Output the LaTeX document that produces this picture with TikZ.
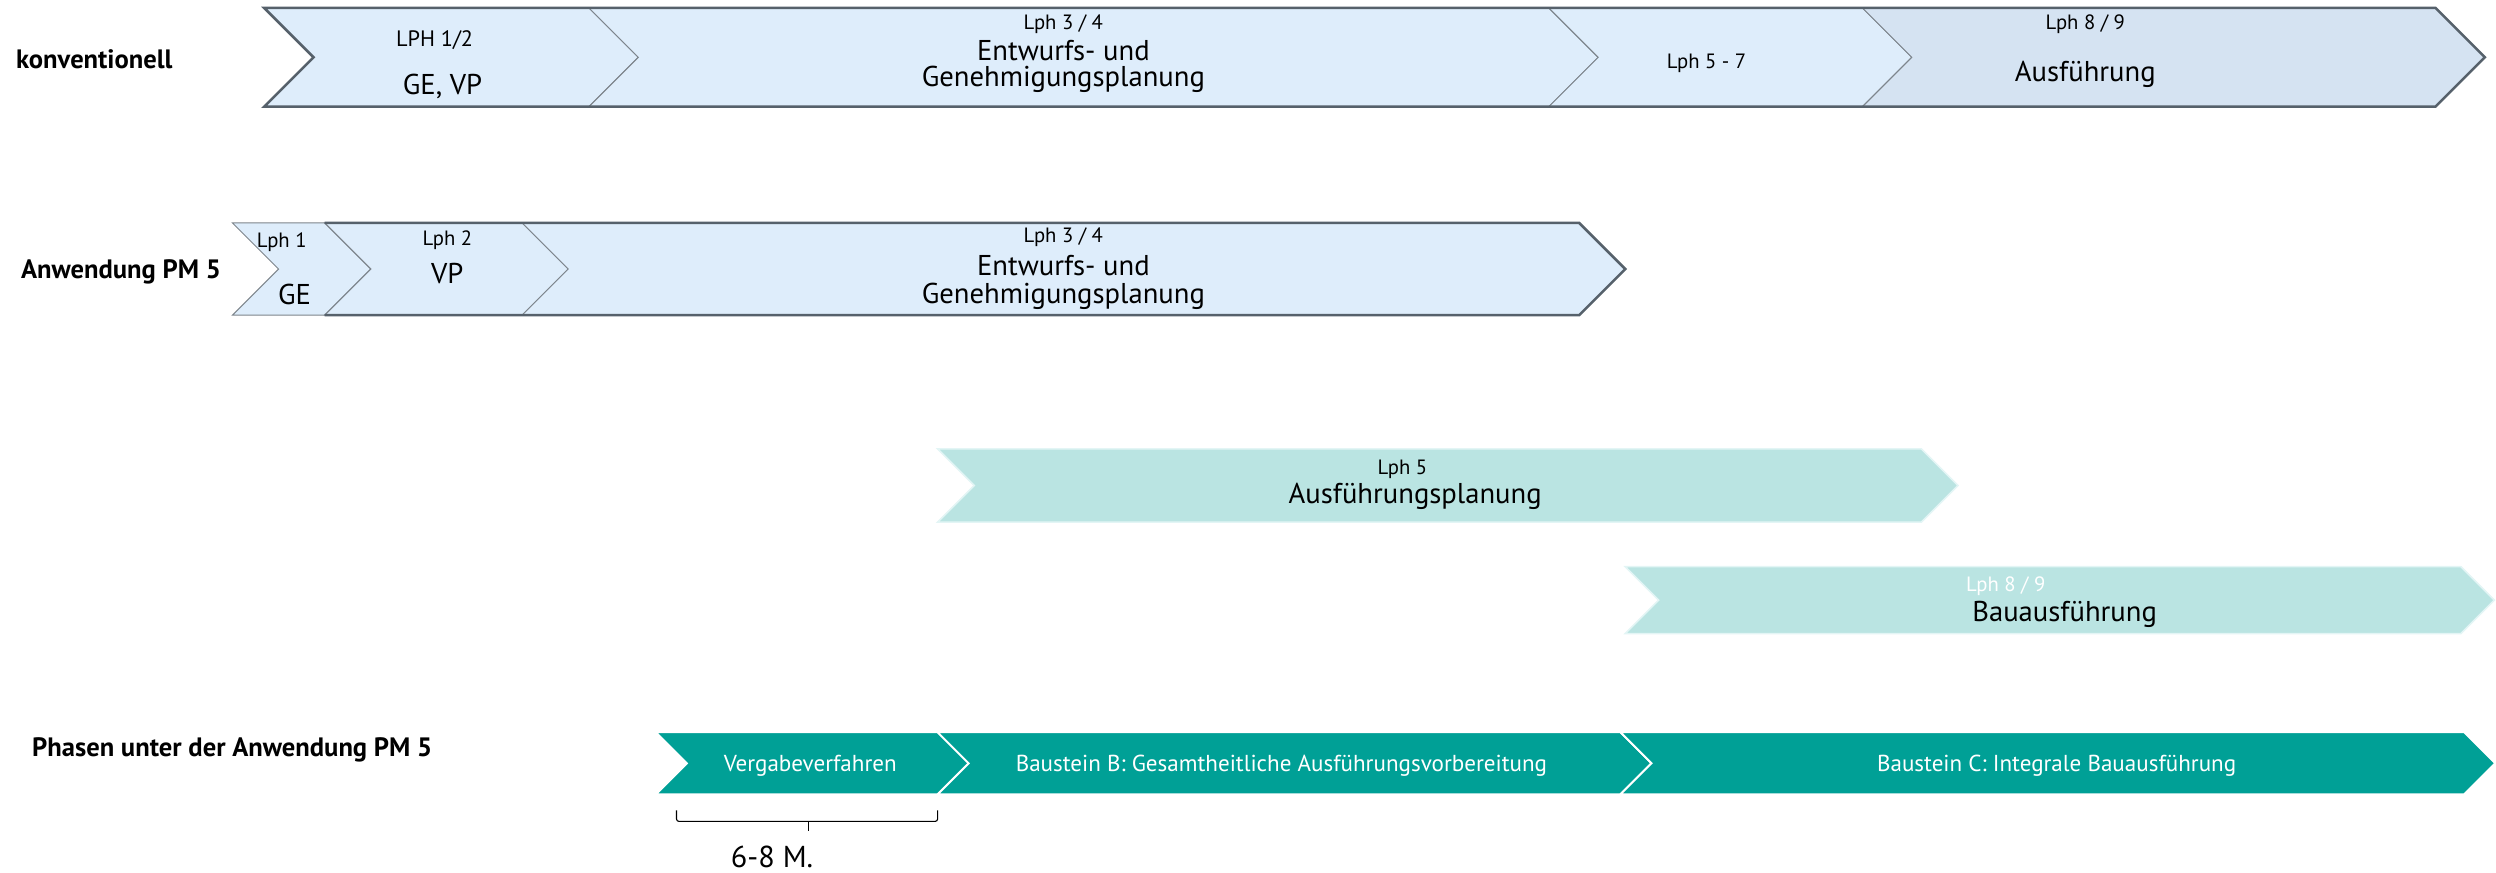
\documentclass[tikz,border=0pt]{standalone}
\usepackage{fontspec}
\setmainfont{PT Sans}
\definecolor{paleblue}{HTML}{DEEDFB}
\definecolor{midblue}{HTML}{D5E3F2}
\definecolor{framegray}{HTML}{56616B}
\definecolor{sepgray}{HTML}{7D858C}
\definecolor{paleteal}{HTML}{BAE4E2}
\definecolor{tealedge}{HTML}{E3F5F5}
\definecolor{pmteal}{HTML}{00A096}
% chevron: #1 left x, #2 right x, #3 top y, #4 bottom y, #5 options
\newcommand{\chevshape}[5]{%
  \draw[#5] (#1,#3) -- (#2,#3) -- ({#2+(#4-#3)/2},{(#3+#4)/2}) -- (#2,#4)
    -- (#1,#4) -- ({#1+(#4-#3)/2},{(#3+#4)/2}) -- cycle;}
\tikzset{
  small/.style={font=\fontsize{13}{14}\selectfont, inner sep=0pt},
  big/.style={font=\fontsize{18}{19}\selectfont, inner sep=0pt},
  bar/.style={font=\fontsize{14.5}{16}\selectfont, inner sep=0pt, text=white},
  rowlabel/.style={font=\bfseries\fontsize{16.7}{18}\selectfont, anchor=west, inner sep=0pt},
  thinsep/.style={fill=paleblue, draw=sepgray, line width=0.6pt},
  frame/.style={draw=framegray, line width=1.6pt, line join=miter},
}
\begin{document}
\begin{tikzpicture}[x=1pt,y=-1pt]
\useasboundingbox (0,0) rectangle (1568,548);

% --- row: konventionell
\chevshape{166}{370}{5}{67}{thinsep}
\chevshape{370}{973}{5}{67}{thinsep}
\chevshape{973}{1170}{5}{67}{thinsep}
\chevshape{1170}{1530}{5}{67}{thinsep, fill=midblue}
\draw[frame] (166,5) -- (1530,5) -- (1561,36) -- (1530,67) -- (166,67) -- (197,36) -- cycle;

\node[rowlabel] (lab1) at (10,37) {konventionell};
\node[small, font=\fontsize{14}{15}\selectfont] (k1a) at (273,25) {LPH 1/2};
\node[big]   (k1b) at (278,54) {GE, VP};
\node[small] (k2a) at (668,15) {Lph 3 / 4};
\node[big]   (k2b) at (668,32) {Entwurfs- und};
\node[big]   (k2c) at (668,50) {Genehmigungsplanung};
\node[small] (k3a) at (1072,40) {Lph 5 - 7};
\node[small] (k4a) at (1310,15) {Lph 8 / 9};
\node[big]   (k4b) at (1310,47) {Ausführung};

% --- row: Anwendung PM 5
\chevshape{146}{204}{140}{198}{thinsep}
\chevshape{204}{328}{140}{198}{thinsep}
\chevshape{328}{992}{140}{198}{thinsep}
\draw[frame] (204,140) -- (992,140) -- (1021,169) -- (992,198) -- (204,198);

\node[rowlabel] (lab2) at (13,171) {Anwendung PM 5};
\node[small] (a1a) at (177,152) {Lph 1};
\node[big]   (a1b) at (185,185) {GE};
\node[small] (a2a) at (281,151) {Lph 2};
\node[big]   (a2b) at (281,172) {VP};
\node[small] (a3a) at (668,149) {Lph 3 / 4};
\node[big]   (a3b) at (668,167) {Entwurfs- und};
\node[big]   (a3c) at (668,186) {Genehmigungsplanung};

% --- parallel phases
\chevshape{589}{1207}{282}{328}{fill=paleteal, draw=tealedge, line width=1pt}
\node[small] (p1a) at (881,295) {Lph 5};
\node[big]   (p1b) at (889,312) {Ausführungsplanung};

\chevshape{1021}{1546}{356}{398}{fill=paleteal, draw=tealedge, line width=1pt}
\node[small, text=white] (p2a) at (1260,368) {Lph 8 / 9};
\node[big]   (p2b) at (1297,386) {Bauausführung};

% --- Phasen unter der Anwendung PM 5
\chevshape{412}{589}{460}{499}{fill=pmteal, draw=white, line width=1.2pt}
\chevshape{589}{1018}{460}{499}{fill=pmteal, draw=white, line width=1.2pt}
\chevshape{1018}{1548}{460}{499}{fill=pmteal, draw=white, line width=1.2pt}

\node[rowlabel] (lab3) at (20,471) {Phasen unter der Anwendung PM 5};
\node[bar] (b1) at (509,481) {Vergabeverfahren};
\node[bar] (b2) at (805,481) {Baustein B: Gesamtheitliche Ausführungsvorbereitung};
\node[bar] (b3) at (1292,481) {Baustein C: Integrale Bauausführung};

% duration bracket
\coordinate (brL) at (425,509);
\coordinate (brR) at (589,509);
\coordinate (brM) at (508,516);
\draw[line width=0.7pt, rounded corners=1.5pt] (brL) -- (425,516) -- (589,516) -- (brR);
\draw[line width=0.7pt] (brM) -- (508,522);
\node[font=\fontsize{19}{21}\selectfont, inner sep=0pt] (dur) at (485,538) {6-8 M.};
\end{tikzpicture}
\end{document}
